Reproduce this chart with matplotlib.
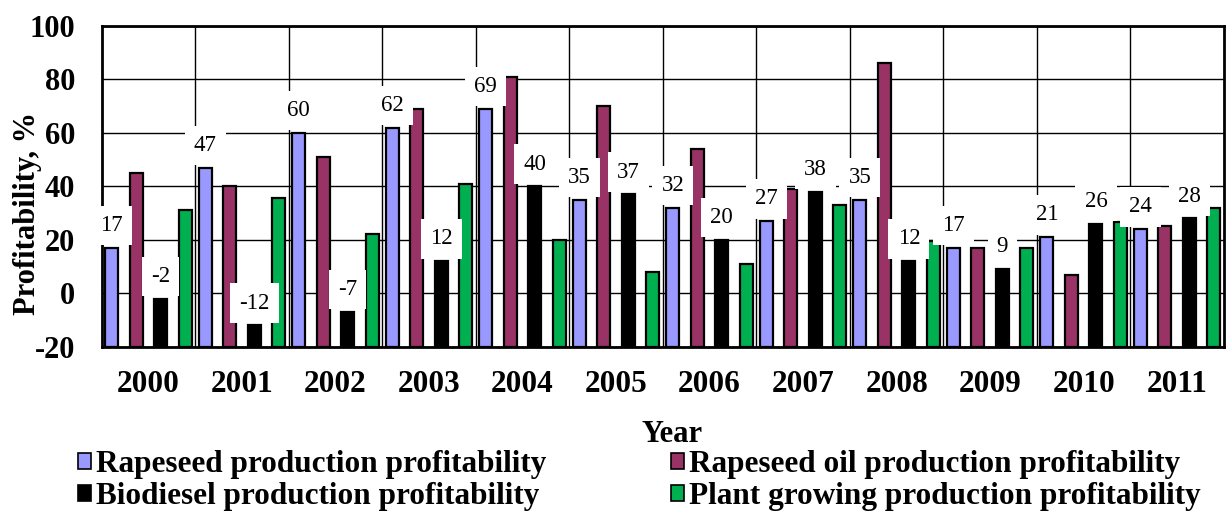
import matplotlib
matplotlib.use('Agg')
import matplotlib.pyplot as plt
import numpy as np
from matplotlib.patches import Patch

years = ['2000', '2001', '2002', '2003', '2004', '2005',
         '2006', '2007', '2008', '2009', '2010', '2011']
rapeseed = [17, 47, 60, 62, 69, 35, 32, 27, 35, 17, 21, 24]
rapeseed_oil = [45, 40, 51, 69, 81, 70, 54, 39, 86, 17, 7, 25]
biodiesel = [-2, -12, -7, 12, 40, 37, 20, 38, 12, 9, 26, 28]
plant_growing = [31, 35.5, 22, 41, 20, 8, 11, 33, 19.6, 17, 26.5, 32]

series_names = ['Rapeseed production profitability',
                'Rapeseed oil production profitability',
                'Biodiesel production profitability',
                'Plant growing production profitability']
colors = ['#9999FF', '#993366', '#000000', '#00B050']
labelled = [True, False, True, False]

plt.rcParams['font.family'] = ['Liberation Serif', 'DejaVu Serif']
plt.rcParams['axes.unicode_minus'] = False

fig = plt.figure(figsize=(12.28, 5.11), dpi=100)
ax = fig.add_axes([101.7 / 1228, 1 - 346.7 / 511, (1224 - 101.7) / 1228, (346.7 - 26) / 511])

base = -20
x = np.arange(len(years))
step = 0.262
width = 0.139

handles = []
for k, (vals, col, name, lab) in enumerate(zip(
        [rapeseed, rapeseed_oil, biodiesel, plant_growing], colors, series_names, labelled)):
    vals = np.array(vals, dtype=float)
    pos = x + (k - 1.5) * step
    bars = ax.bar(pos, vals - base, width, bottom=base, color=col,
                  edgecolor='black', linewidth=1.6, zorder=3)
    handles.append(Patch(facecolor=col, edgecolor='black', linewidth=1.2, label=name))
    if lab:
        for b, v in zip(bars, vals):
            ax.annotate(f'{v:g}', xy=(b.get_x() + b.get_width() / 2, v),
                        xytext=(0, 16), textcoords='offset points',
                        ha='center', va='center', fontsize=16.5,
                        bbox=dict(boxstyle='square,pad=0.4', fc='white', ec='none'),
                        zorder=6)

ax.set_xlim(-0.5, len(years) - 0.5)
ax.set_ylim(-20, 100)
ax.set_yticks(np.arange(-20, 101, 20))
ax.set_xticks(x)
ax.set_xticklabels(years)
ax.set_xticks(x[:-1] + 0.5, minor=True)
ax.grid(True, which='major', axis='y', color='black', linewidth=1.0, zorder=0)
ax.grid(True, which='minor', axis='x', color='black', linewidth=1.0, zorder=0)
ax.set_axisbelow(True)
ax.tick_params(axis='both', which='both', length=0)
ax.tick_params(axis='y', pad=19, labelsize=22)
ax.tick_params(axis='x', pad=17, labelsize=22.5)
for t in ax.get_xticklabels() + ax.get_yticklabels():
    t.set_fontweight('bold')
for s in ax.spines.values():
    s.set_linewidth(2)
    s.set_color('black')

fig.text(28 / 1228, 1 - 213 / 511, 'Profitability, %', rotation=90,
         ha='center', va='center', fontsize=22, fontweight='bold')
fig.text(672 / 1228, 1 - 434 / 511, 'Year', ha='center', va='center',
         fontsize=22, fontweight='bold')

order = [0, 2, 1, 3]
fig.legend([handles[i] for i in order], [series_names[i] for i in order],
           ncol=2, loc='upper left', bbox_to_anchor=(78 / 1228, 1 - 450 / 511),
           frameon=False, prop={'size': 22.5, 'weight': 'bold'},
           handlelength=0.42, handleheight=0.42, handletextpad=0.15,
           columnspacing=4.0, labelspacing=0.1, borderaxespad=0, borderpad=0)

fig.savefig('out.png', dpi=100)
